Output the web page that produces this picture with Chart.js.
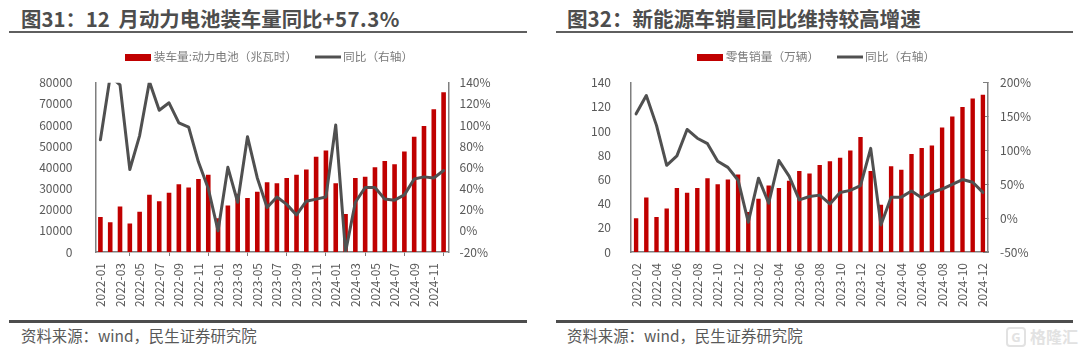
<!DOCTYPE html>
<html lang="zh"><head><meta charset="utf-8">
<style>
html,body{margin:0;padding:0;background:#fff;width:1080px;height:352px;overflow:hidden}
body{position:relative;font-family:"Noto Sans CJK SC",sans-serif}
.t{position:absolute;top:4px;font-size:20.4px;font-weight:700;color:#4d4d4d;line-height:28px;white-space:nowrap}
.r1{position:absolute;top:31px;height:2px;background:#5f5f5f}
.r2{position:absolute;top:320px;height:3px;background:#4d4d4d}
.s{position:absolute;top:324px;font-size:15.4px;color:#595959;line-height:22px;white-space:nowrap}
.w{position:absolute;left:1030px;top:325px;font-size:16px;color:#e2e2e2;line-height:22px;font-weight:700;white-space:nowrap}
.g{position:absolute;left:1006px;top:327px;width:16px;height:16px;border:2px solid #e2e2e2;border-radius:4px;color:#e2e2e2;font:700 13px/16px "Noto Sans",sans-serif;text-align:center}
canvas{position:absolute;display:block}
</style></head><body>
<div class="t" style="left:21px;word-spacing:4px">图31：12 月动力电池装车量同比<span style="letter-spacing:.5px">+57.3%</span></div>
<div class="t" style="left:567px;font-size:20.6px">图32：新能源车销量同比维持较高增速</div>
<div class="r1" style="left:9px;width:518px"></div>
<div class="r1" style="left:556px;width:517px"></div>
<div class="r2" style="left:9px;width:518px"></div>
<div class="r2" style="left:556px;width:517px"></div>
<div class="s" style="left:21px">资料来源：wind，民生证券研究院</div>
<div class="s" style="left:567px">资料来源：wind，民生证券研究院</div>
<div class="g">G</div><div class="w">格隆汇</div>
<div id="a" style="position:absolute;left:0;top:40px;width:534px;height:280px"><canvas id="c1"></canvas></div>
<div id="b" style="position:absolute;left:550px;top:40px;width:528px;height:280px"><canvas id="c2"></canvas></div>
<script src="https://cdn.jsdelivr.net/npm/chart.js@4"></script>
<script>
const months1 = ["2022-01","2022-02","2022-03","2022-04","2022-05","2022-06","2022-07","2022-08","2022-09","2022-10","2022-11","2022-12","2023-01","2023-02","2023-03","2023-04","2023-05","2023-06","2023-07","2023-08","2023-09","2023-10","2023-11","2023-12","2024-01","2024-02","2024-03","2024-04","2024-05","2024-06","2024-07","2024-08","2024-09","2024-10","2024-11","2024-12"];
const battery = [16500,14000,21500,13500,19000,27000,24000,28000,32000,30500,34500,36500,16000,22000,27500,25500,28500,33000,32500,35000,36500,39000,45000,48000,32500,18000,35000,35500,40000,43000,41500,47500,54500,59500,67500,75500];
const batteryYoy = [86,146,138,58,90,141,114,121,102,98,65,40,0,60,27,89,50,22,32,25,15,28,30,32,100,-20,27,41,41,30,29,34,49,51,50,57];
const months2 = months1.slice(1);
const retail = [28,45,29,36,53,49,53,61,56,60,64,33,44,55,53,59,67,65,72,75,78,84,95,67,39,71,68,81,86,88,103,112,120,127,130];
const retailYoy = [154,181,137,78,92,131,118,110,84,75,56,-6,59,22,85,62,27,32,34,21,38,41,48,103,-10,31,31,40,30,38,43,50,57,53,38];
const legend1 = ["装车量:动力电池（兆瓦时）","同比（右轴）"];
const legend2 = ["零售销量（万辆）","同比（右轴）"];
const RED = "#c00000", GREY = "#505050", AXIS = "#7f7f7f", TXT = "#595959";
const FONT = '"Noto Sans CJK SC",sans-serif';
const LEG_PAD = 21, LEG_FONT = 11.7;

function swatch(color, h){
  const c = document.createElement("canvas"); c.width = 26; c.height = 7;
  const x = c.getContext("2d"); x.fillStyle = color; x.fillRect(0,(7-h)/2,26,h); return c;
}
const moveLegend = {id:"moveLegend",afterLayout(ch){
  const l = ch.legend; const top = 17 - LEG_PAD - LEG_FONT/2;
  const d = top - l.top; l.top += d; l.bottom += d;
  l.left += 4; l.right += 4;
}};
function build(id, labels, bars, yoy, names, o){
  new Chart(document.getElementById(id), {
    plugins:[moveLegend],
    data:{labels, datasets:[
      {type:"line",label:names[1],data:yoy,yAxisID:"y1",borderColor:GREY,backgroundColor:GREY,borderWidth:3,borderJoinStyle:"round",borderCapStyle:"round",pointRadius:0,tension:0,order:0},
      {type:"bar",label:names[0],data:bars,yAxisID:"y",backgroundColor:RED,barPercentage:o.bar,categoryPercentage:1,order:1}
    ]},
    options:{
      responsive:true,maintainAspectRatio:false,animation:false,
      layout:{padding:{top:o.padTop,left:0,right:0,bottom:0}},
      plugins:{tooltip:{enabled:false},legend:{
        display:true,position:"top",
        labels:{font:{family:FONT,size:LEG_FONT},color:"#7a7a7a",padding:LEG_PAD,usePointStyle:true,pointStyleWidth:19,
          generateLabels(ch){return [
            {text:names[0],pointStyle:swatch(RED,7),fillStyle:RED,strokeStyle:RED,lineWidth:0,datasetIndex:1,fontColor:"#7a7a7a"},
            {text:names[1],pointStyle:swatch(GREY,3),fillStyle:GREY,strokeStyle:GREY,lineWidth:0,datasetIndex:0,fontColor:"#7a7a7a"}
          ];}}
      }},
      scales:{
        x:{offset:true,
          grid:{drawOnChartArea:false,drawTicks:o.xTicks,tickLength:4,color:AXIS,offset:true},
          border:{color:AXIS,width:1.5},
          afterFit(s){s.height=68;},
          ticks:{autoSkip:true,maxTicksLimit:18,minRotation:90,maxRotation:90,padding:o.xPad,font:{family:FONT,size:12},color:TXT}},
        y:{position:"left",min:0,max:o.max,
          ticks:{stepSize:o.step,padding:o.yPad,font:{family:FONT,size:12},color:TXT,callback:v=>String(v)},
          grid:{display:false},border:{color:AXIS,width:1.5},
          afterFit(s){s.width=o.yW;}},
        y1:{position:"right",min:o.rMin,max:o.rMax,
          ticks:{stepSize:o.rStep,padding:o.rPad,font:{family:FONT,size:12},color:TXT,callback:v=>v+"%"},
          grid:{drawOnChartArea:false,drawTicks:o.rTicks,tickLength:o.rTicks?-5:0,color:AXIS},border:{color:AXIS,width:1.5},
          afterFit(s){s.width=o.rW;}}
      }
    }
  });
}
build("c1",months1,battery,batteryYoy,legend1,{padTop:0,bar:.47,max:80000,step:10000,rMin:-20,rMax:140,rStep:20,yW:95.5,rW:85.5,xTicks:true,xPad:7,yPad:15,rPad:11,rTicks:false});
build("c2",months2,retail,retailYoy,legend2,{padTop:0,bar:.43,max:140,step:20,rMin:-50,rMax:200,rStep:50,yW:81,rW:90,xTicks:false,xPad:11,yPad:12,rPad:17,rTicks:true});
</script>
</body></html>
